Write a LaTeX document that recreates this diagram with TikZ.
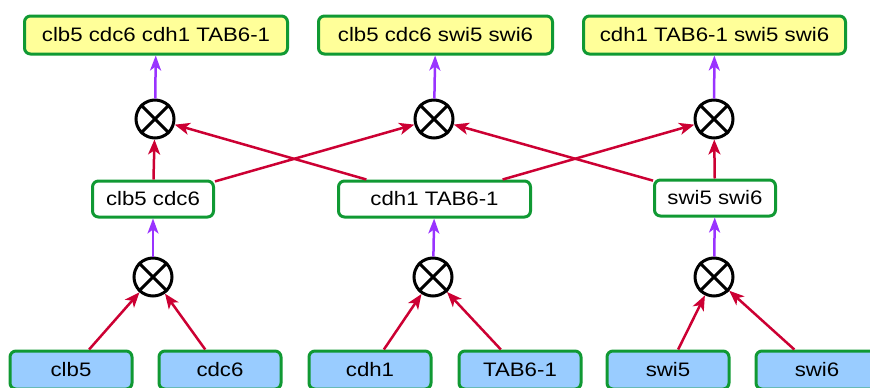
\documentclass[tikz,border=0pt]{standalone}
\usepackage{fontspec}
\setmainfont{Liberation Sans}[FakeStretch=1.14]
\usetikzlibrary{arrows.meta}
\definecolor{boxgreen}{RGB}{16,153,51}
\definecolor{topyellow}{RGB}{255,255,153}
\definecolor{leafblue}{RGB}{153,204,255}
\definecolor{arrred}{RGB}{204,0,51}
\definecolor{arrpurple}{RGB}{153,51,255}
\begin{document}
\begin{tikzpicture}[x=1pt,y=-1pt,
  box/.style={draw=boxgreen, line width=3pt, rounded corners=6pt,
    inner sep=0pt, font=\fontsize{19.5}{22}\selectfont},
  topbox/.style={box, fill=topyellow, minimum height=38pt},
  midbox/.style={box, fill=white, minimum height=36pt},
  leafbox/.style={box, fill=leafblue, minimum width=122pt, minimum height=38pt},
  prod/.style={circle, draw=black, line width=3pt, minimum size=38pt, inner sep=0pt},
  redarr/.style={draw=arrred, line width=2.5pt, -{Stealth[length=15pt,width=12pt,inset=4pt]}},
  purparr/.style={draw=arrpurple, line width=2.5pt, -{Stealth[length=15pt,width=11pt,inset=4pt]}}]
\useasboundingbox (0,0) rectangle (870,388);

% result boxes
\node[topbox, minimum width=263pt] (t1) at (156,35) {clb5 cdc6 cdh1 TAB6-1};
\node[topbox, minimum width=234pt] (t2) at (435.5,35) {clb5 cdc6 swi5 swi6};
\node[topbox, minimum width=262pt] (t3) at (714.5,35) {cdh1 TAB6-1 swi5 swi6};

% upper product nodes
\node[prod] (q1) at (155,119) {};
\node[prod] (q2) at (434,119) {};
\node[prod] (q3) at (714,119) {};

% intermediate boxes
\node[midbox, minimum width=121pt] (m1) at (153,199) {clb5 cdc6};
\node[midbox, minimum width=192pt] (m2) at (434.5,199) {cdh1 TAB6-1};
\node[midbox, minimum width=121pt] (m3) at (715,198) {swi5 swi6};

% lower product nodes
\node[prod] (p1) at (153,277) {};
\node[prod] (p2) at (433,277) {};
\node[prod] (p3) at (714,277) {};

% leaf boxes
\node[leafbox] (l1) at (71,370) {clb5};
\node[leafbox] (l2) at (220,370) {cdc6};
\node[leafbox] (l3) at (370,370) {cdh1};
\node[leafbox] (l4) at (520,370) {TAB6-1};
\node[leafbox] (l5) at (668,370) {swi5};
\node[leafbox] (l6) at (817,370) {swi6};

% crosses inside the product circles
\foreach \n in {q1,q2,q3,p1,p2,p3}{
  \draw[line width=3pt] (\n.north west) -- (\n.south east);
  \draw[line width=3pt] (\n.north east) -- (\n.south west);
}

% leaves into lower products
\draw[redarr] (l1) -- (p1);
\draw[redarr] (l2) -- (p1);
\draw[redarr] (l3) -- (p2);
\draw[redarr] (l4) -- (p2);
\draw[redarr] (l5) -- (p3);
\draw[redarr] (l6) -- (p3);

% lower products to intermediate boxes
\draw[purparr] (p1) -- (m1);
\draw[purparr] (p2) -- (m2);
\draw[purparr] (p3) -- (m3);

% intermediate boxes into upper products
\draw[redarr] (m1) -- (q1);
\draw[redarr] (m1) -- (q2);
\draw[redarr] (m2) -- (q1);
\draw[redarr] (m2) -- (q3);
\draw[redarr] (m3) -- (q2);
\draw[redarr] (m3) -- (q3);

% upper products to result boxes
\draw[purparr] (q1) -- (t1);
\draw[purparr] (q2) -- (t2);
\draw[purparr] (q3) -- (t3);
\end{tikzpicture}
\end{document}
